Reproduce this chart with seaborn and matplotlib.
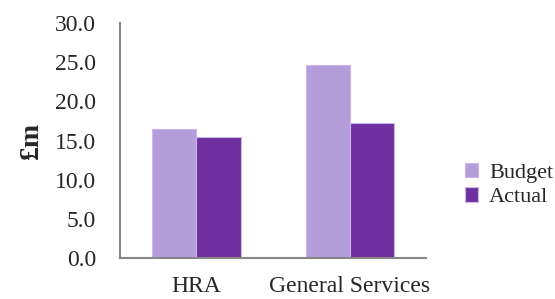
import matplotlib
matplotlib.use("Agg")
import matplotlib.pyplot as plt
import seaborn as sns
import pandas as pd
from matplotlib.ticker import FormatStrFormatter

categories = ["HRA", "General Services"]
budget = [16.5, 24.6]
actual = [15.5, 17.3]
series = ["Budget", "Actual"]

sns.set_style("white")
plt.rcParams["font.family"] = ["Liberation Serif", "DejaVu Serif"]

data = pd.DataFrame({
    "category": categories * 2,
    "series": [series[0]] * len(categories) + [series[1]] * len(categories),
    "value": budget + actual,
})

fig = plt.figure(figsize=(5.55, 2.99), dpi=100)
ax = fig.add_axes([0.216, 0.137, 0.552, 0.786])

sns.barplot(data=data, x="category", y="value", hue="series",
            palette=["#B49DDB", "#7030A0"], width=0.575, saturation=1,
            ax=ax, legend=True)
for bar in ax.patches:
    bar.set_edgecolor("#C9B6EA")
    bar.set_linewidth(0.8)

ax.set_ylim(0, 30)
ax.set_yticks([0, 5, 10, 15, 20, 25, 30])
ax.yaxis.set_major_formatter(FormatStrFormatter("%.1f"))
ax.set_xlim(-0.5, 1.5)
ax.set_xticks([-0.5, 0.5, 1.5], minor=False)
ax.set_xticklabels(["", "", ""])
ax.set_xticks([0, 1], minor=True)
ax.set_xticklabels(categories, minor=True)
ax.tick_params(axis="x", which="major", length=6, width=1.2, color="#868686", direction="out")
ax.tick_params(axis="x", which="minor", length=0, labelsize=17, pad=13)
ax.tick_params(axis="y", length=7, width=1.2, color="#868686", labelsize=17, pad=10)
ax.set_xlabel("")
ax.set_ylabel("£m", fontsize=20, fontweight="bold", labelpad=8)

for side in ["top", "right"]:
    ax.spines[side].set_visible(False)
for side in ["left", "bottom"]:
    ax.spines[side].set_color("#868686")
    ax.spines[side].set_linewidth(1.5)

leg = ax.legend(loc="center left", bbox_to_anchor=(1.06, 0.31), frameon=False,
                fontsize=16, handlelength=0.6, handleheight=0.6,
                handletextpad=0.5, labelspacing=0.2)

fig.savefig("out.png", dpi=100)
